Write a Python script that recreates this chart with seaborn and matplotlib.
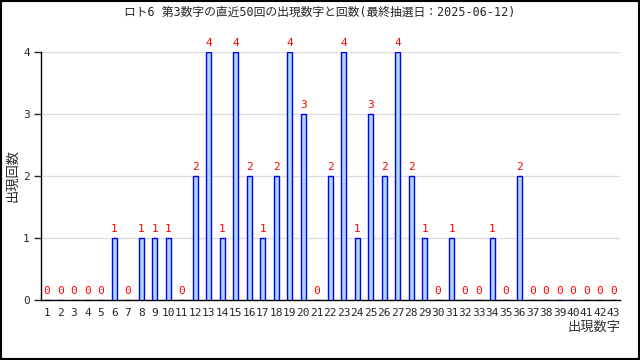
import seaborn as sns
import matplotlib.pyplot as plt
import matplotlib.patches as mpatches
import pandas as pd
import numpy as np

TITLE = "ロト6 第3数字の直近50回の出現数字と回数(最終抽選日：2025-06-12)"
XLABEL = "出現数字"
YLABEL = "出現回数"

numbers = list(range(1, 44))
counts = [0, 0, 0, 0, 0, 1, 0, 1, 1, 1,
          0, 2, 4, 1, 4, 2, 1, 2, 4, 3,
          0, 2, 4, 1, 3, 2, 4, 2, 1, 0,
          1, 0, 0, 1, 0, 2, 0, 0, 0, 0,
          0, 0, 0]

sns.set_style("white")
plt.rcParams['font.family'] = ['DejaVu Sans Mono', 'Noto Sans CJK JP']

df = pd.DataFrame({"num": [str(n) for n in numbers], "count": counts})

fig, ax = plt.subplots(figsize=(6.4, 3.6), dpi=100)
fig.subplots_adjust(left=0.064, right=0.969, bottom=0.167, top=0.856)
# border round the whole picture
fig.patches.append(mpatches.Rectangle((0.001, 0.002), 0.997, 0.996,
                                      transform=fig.transFigure,
                                      fill=False, edgecolor="black",
                                      linewidth=1.5))

sns.barplot(data=df, x="num", y="count", order=df["num"], width=0.37,
            color="lightblue", edgecolor="blue", linewidth=1,
            saturation=1, ax=ax, zorder=3)

for i, c in enumerate(counts):
    ax.annotate(str(c), (i, c), xytext=(0, 3), textcoords="offset points",
                ha="center", va="bottom", color="red", fontsize=8,
                annotation_clip=False)

ax.set_xlim(-0.45, 42.45)
ax.set_ylim(0, 4)
ax.set_yticks([0, 1, 2, 3, 4])
ax.yaxis.grid(True, color="#dddddd", linewidth=1, zorder=0)
ax.set_xticks(np.arange(len(numbers)))
ax.set_xticklabels(numbers, fontsize=8)
ax.set_xticks(np.arange(len(numbers)) + 0.5, minor=True)
ax.tick_params(axis="x", which="major", direction="in", length=2,
               width=1, pad=6)
ax.tick_params(axis="x", which="minor", direction="in", length=4,
               width=1)
ax.tick_params(axis="y", direction="out", length=5, width=1,
               labelsize=8, pad=3, left=True)
sns.despine(ax=ax)
for s in ["left", "bottom"]:
    ax.spines[s].set_color("black")
    ax.spines[s].set_linewidth(1)

ax.set_xlabel("")
ax.set_ylabel(YLABEL, fontsize=9.5)
ax.yaxis.set_label_coords(-0.037, 0.5)
ax.text(1.0, -0.085, XLABEL, transform=ax.transAxes, ha="right",
        va="top", fontsize=9.5, color="#333333")
fig.text(0.5, 0.965, TITLE, ha="center", va="center", fontsize=8.5)

fig.savefig("out.png", dpi=100)
